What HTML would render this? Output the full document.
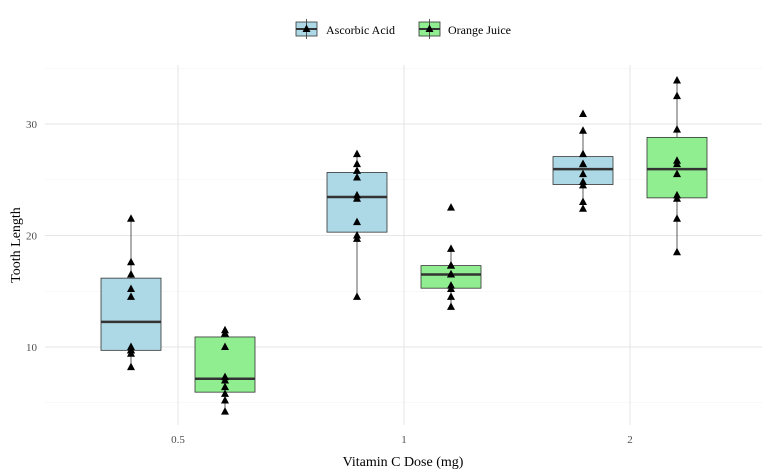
<!DOCTYPE html>
<html><head><meta charset="utf-8"><style>
body{margin:0;background:#fff}
svg{display:block;font-family:"Liberation Serif",serif}
</style></head><body>
<svg id="c" width="770" height="475"></svg>
<script>
const doses=["0.5","1","2"];
const acidVals=[[15.2,21.5,17.6,9.7,14.5,10,8.2,9.4,16.5,9.7],[19.7,23.3,23.6,26.4,20,25.2,25.8,21.2,14.5,27.3],[25.5,26.4,22.4,24.5,24.8,30.9,26.4,27.3,29.4,23]];
const ojVals=[[4.2,11.5,7.3,5.8,6.4,10,11.2,11.2,5.2,7],[16.5,16.5,15.2,17.3,22.5,17.3,13.6,14.5,18.8,15.5],[23.6,18.5,33.9,25.5,26.4,32.5,26.7,21.5,23.3,29.5]];
const yTicks=[10,20,30];
const yMinor=[5,15,25,35];
const seriesNames=["Ascorbic Acid","Orange Juice"];
const NS="http://www.w3.org/2000/svg";
const svg=document.getElementById('c');
const L=45,R=762,T=65,B=425;
const y=v=>458.5-11.15*v;
const x=i=>178+i*226;
function el(t,a,p){const e=document.createElementNS(NS,t);for(const k in a)e.setAttribute(k,a[k]);(p||svg).appendChild(e);return e;}
function q(a,p){const s=[...a].sort((m,n)=>m-n);const h=(s.length-1)*p,lo=Math.floor(h);return s[lo]+(h-lo)*((s[lo+1]??s[lo])-s[lo]);}
yMinor.forEach(v=>{const g=el('line',{x1:L,x2:R,y1:y(v),y2:y(v),stroke:'#f2f2f2','stroke-width':0.6});});
yTicks.forEach(v=>{const g=el('line',{x1:L,x2:R,y1:y(v),y2:y(v),stroke:'#e6e6e6','stroke-width':1});
const t=el('text',{x:37,y:y(v)+4,'text-anchor':'end','font-size':11,fill:'#4d4d4d'});t.textContent=v;});
doses.forEach((d,i)=>{const g=el('line',{x1:x(i),x2:x(i),y1:T,y2:B,stroke:'#e6e6e6','stroke-width':1});
const t=el('text',{x:x(i),y:443,'text-anchor':'middle','font-size':11,fill:'#4d4d4d'});t.textContent=d;});
function tri(cx,cy,parent){return el('polygon',{points:`${cx},${cy-4.5} ${cx-4},${cy+3} ${cx+4},${cy+3}`,fill:'#000'},parent);}
[[acidVals,'#add8e6',-47],[ojVals,'#90ee90',47]].forEach(([vals,col,off],si)=>{
vals.forEach((a,i)=>{const cx=x(i)+off,w=30;
const g=el('g',{});
const q1=q(a,.25),md=q(a,.5),q3=q(a,.75),iqr=q3-q1;
const lo=Math.min(...a.filter(v=>v>=q1-1.5*iqr)),hi=Math.max(...a.filter(v=>v<=q3+1.5*iqr));
el('line',{x1:cx,x2:cx,y1:y(hi),y2:y(q3),stroke:'#333','stroke-width':0.8},g);
el('line',{x1:cx,x2:cx,y1:y(q1),y2:y(lo),stroke:'#333','stroke-width':0.8},g);
el('rect',{x:cx-w,y:y(q3),width:2*w,height:y(q1)-y(q3),fill:col,stroke:'#333','stroke-width':0.8},g);
el('line',{x1:cx-w,x2:cx+w,y1:y(md),y2:y(md),stroke:'#333','stroke-width':2.5},g);
a.forEach(v=>{const p=tri(cx,y(v),g);});
});});
let t=el('text',{x:403,y:466,'text-anchor':'middle','font-size':14,fill:'#000'});t.textContent='Vitamin C Dose (mg)';
t=el('text',{x:20,y:245,'text-anchor':'middle','font-size':14,fill:'#000',transform:'rotate(-90 20 245)'});t.textContent='Tooth Length';
[[296,'#add8e6',326],[419,'#90ee90',448]].forEach(([kx,col,tx],i)=>{
const g=el('g',{});
el('rect',{x:kx,y:22,width:21,height:14,fill:col,stroke:'#333','stroke-width':0.8},g);
el('line',{x1:kx+10.5,x2:kx+10.5,y1:19,y2:39,stroke:'#333','stroke-width':0.8},g);
el('line',{x1:kx,x2:kx+21,y1:29,y2:29,stroke:'#333','stroke-width':2},g);
tri(kx+10.5,29,g);
const tt=el('text',{x:tx,y:34,'font-size':12,fill:'#000'},g);tt.textContent=seriesNames[i];
});
</script>
</body></html>
